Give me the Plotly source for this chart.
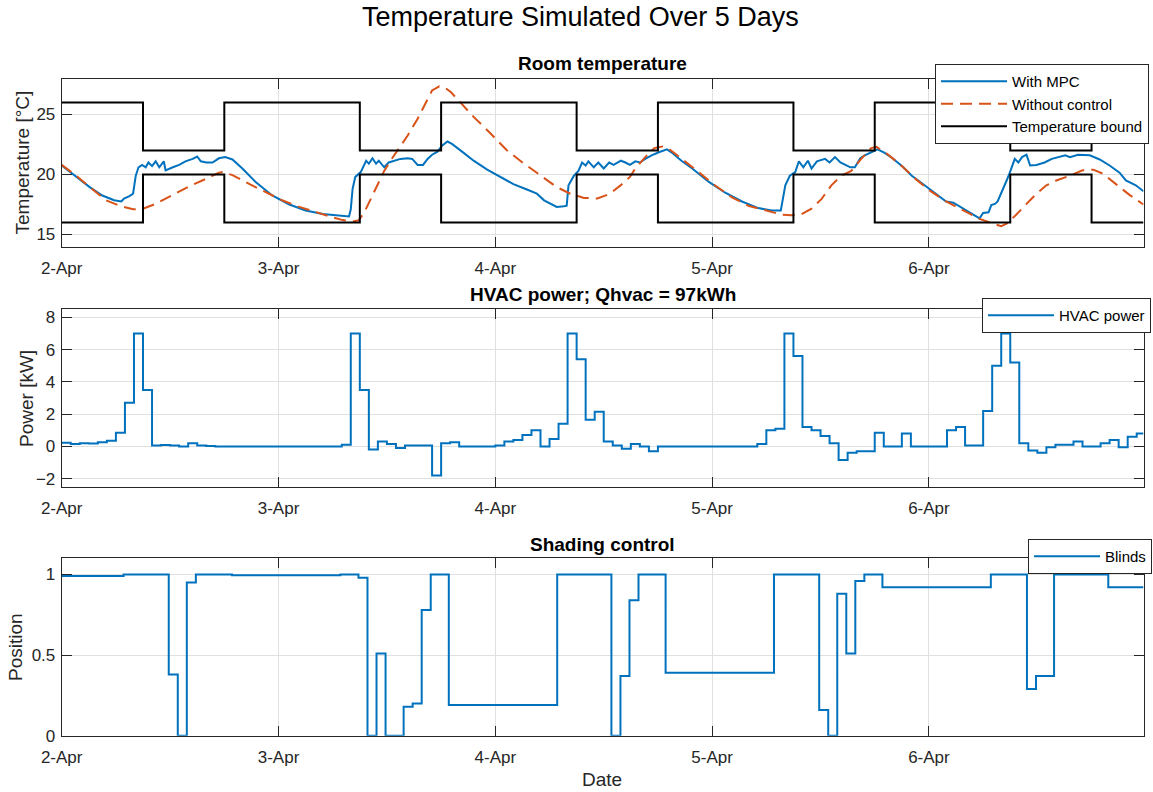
import pandas as pd
import plotly.graph_objects as go

# ---------------- data (hours after 2-Apr 00:00) ----------------
mpc_hours = [0.0, 1.6, 3.1, 4.5, 5.8, 6.6, 6.9, 7.5, 7.9, 8.2, 8.5, 8.9, 9.3, 9.6, 10.0, 10.4, 10.8, 11.3, 11.5,
             12.3, 13.0, 13.7, 14.5, 15.0, 15.4, 16.0, 16.7, 17.4, 18.1, 18.9, 20.0, 21.5, 23.3, 25.2, 27.0, 28.9,
             30.9, 31.8, 32.0, 32.2, 32.5, 33.1, 33.7, 34.0, 34.4, 34.8, 35.1, 35.7, 36.2, 37.0, 37.5, 38.3, 38.8,
             39.4, 40.0, 40.5, 41.0, 41.6, 42.1, 42.7, 43.2, 44.5, 45.6, 47.1, 48.6, 50.0, 51.5, 52.6, 53.4, 54.1,
             54.8, 55.6, 55.9, 56.1, 56.7, 57.2, 57.6, 58.0, 58.3, 58.9, 59.4, 60.0, 60.6, 61.1, 61.9, 62.4, 62.9,
             63.5, 64.0, 64.6, 65.3, 66.1, 67.0, 67.5, 68.6, 69.8, 71.6, 73.4, 75.3, 77.1, 78.6, 79.6, 79.8, 80.1,
             80.6, 81.2, 81.6, 82.1, 82.6, 83.0, 83.6, 84.5, 85.0, 85.6, 86.2, 86.7, 87.3, 87.8, 88.4, 88.9, 89.7,
             90.3, 91.0, 91.9, 93.1, 94.1, 95.0, 96.8, 97.9, 98.7, 100.2, 100.9, 101.6, 102.0, 102.6, 102.9, 103.3,
             103.6, 104.0, 104.6, 104.9, 105.5, 105.9, 106.3, 106.8, 107.2, 107.9, 108.8, 109.6, 110.3, 111.1,
             111.6, 112.5, 113.8, 114.9, 116.0, 117.1, 117.8, 118.9, 119.75]
mpc_temp = [20.75, 19.8, 18.95, 18.25, 17.85, 17.75, 18.0, 18.2, 18.4, 19.9, 20.6, 20.8, 20.6, 21.0, 20.7, 21.1,
            20.6, 21.1, 20.35, 20.6, 20.8, 21.1, 21.3, 21.5, 21.1, 21.0, 21.0, 21.35, 21.45, 21.25, 20.5, 19.35,
            18.25, 17.5, 17.0, 16.7, 16.6, 16.5, 17.1, 18.8, 19.8, 20.2, 21.15, 20.9, 21.35, 20.9, 21.15, 20.6,
            21.0, 21.15, 21.3, 21.35, 21.3, 20.8, 20.8, 21.3, 21.65, 21.9, 22.4, 22.75, 22.55, 21.8, 21.15, 20.4,
            19.8, 19.2, 18.75, 18.4, 17.85, 17.55, 17.3, 17.35, 17.4, 19.1, 19.9, 20.3, 21.0, 20.75, 21.1, 20.6,
            21.0, 20.5, 21.0, 20.8, 21.15, 21.0, 20.8, 21.1, 21.0, 21.3, 21.6, 21.85, 22.1, 21.85, 21.15, 20.5,
            19.4, 18.5, 17.75, 17.2, 17.0, 17.0, 17.95, 19.1, 19.9, 20.2, 21.1, 20.6, 21.15, 20.5, 21.1, 21.3,
            21.0, 21.45, 21.0, 20.8, 20.6, 20.6, 21.35, 21.6, 21.85, 22.1, 21.85, 21.4, 20.65, 19.9, 19.4, 18.4,
            17.75, 17.65, 17.0, 16.7, 16.35, 16.8, 16.85, 17.45, 17.55, 17.75, 18.4, 19.5, 20.05, 21.3, 21.0,
            21.45, 21.65, 20.75, 20.8, 21.0, 21.3, 21.45, 21.6, 21.45, 21.65, 21.6, 21.25, 20.75, 20.15, 19.5,
            19.1, 18.6]

nocontrol_hours = [0.0, 1.6, 3.1, 4.9, 6.4, 7.9, 9.0, 10.4, 12.3, 14.1, 16.0, 17.4, 17.8, 18.9, 20.8, 22.6, 24.4,
                   26.3, 28.1, 29.9, 31.1, 32.4, 32.9, 33.5, 34.2, 34.9, 35.7, 36.4, 37.3, 38.3, 39.4, 40.3, 41.0,
                   41.8, 42.3, 43.1, 44.1, 45.6, 47.5, 49.3, 51.1, 53.0, 54.8, 56.3, 57.8, 59.3, 60.7, 62.2, 62.9,
                   63.5, 64.6, 65.6, 66.6, 67.2, 68.6, 70.5, 72.3, 74.2, 76.0, 77.9, 79.7, 80.8, 81.9, 83.0, 84.1,
                   85.2, 86.3, 87.4, 88.5, 89.6, 90.2, 91.5, 93.0, 94.4, 96.1, 97.9, 99.8, 101.6, 103.1, 104.0,
                   104.6, 105.6, 106.8, 107.9, 109.0, 110.1, 111.6, 113.0, 114.2, 115.3, 116.7, 118.2, 119.75]
nocontrol_temp = [20.8, 19.9, 18.95, 17.85, 17.4, 17.1, 17.15, 17.55, 18.3, 19.0, 19.65, 20.15, 20.2, 19.95, 19.2,
                  18.5, 17.85, 17.3, 16.85, 16.45, 16.2, 16.1, 16.2, 16.85, 17.95, 19.1, 20.3, 21.15, 22.15, 23.25,
                  24.65, 26.05, 27.0, 27.35, 27.3, 26.85, 26.0, 24.8, 23.4, 22.0, 20.95, 19.9, 18.95, 18.4, 18.05,
                  18.0, 18.4, 19.3, 19.8, 20.5, 21.45, 22.2, 22.35, 22.15, 21.35, 20.2, 19.1, 18.1, 17.4, 17.0,
                  16.65, 16.6, 16.7, 17.15, 17.95, 19.1, 19.9, 20.3, 21.3, 22.2, 22.3, 21.65, 20.7, 19.7, 18.65,
                  17.75, 17.0, 16.3, 15.9, 15.7, 15.9, 16.6, 17.55, 18.4, 19.1, 19.5, 19.9, 20.35, 20.4, 20.05,
                  19.2, 18.3, 17.5]

bound_hours = [0, 9, 18, 33, 42, 57, 66, 81, 90, 105, 114, 119.75]
lower_bound = [16, 20, 16, 20, 16, 20, 16, 20, 16, 20, 16, 16]
upper_bound = [26, 22, 26, 22, 26, 22, 26, 22, 26, 22, 26, 26]

power_hours = list(range(120)) + [119.75]
hvac_power = [0.22, 0.15, 0.2, 0.18, 0.25, 0.35, 0.85, 2.7, 7.0, 3.5,
              0.05, 0.08, 0.05, 0.0, 0.2, 0.05, 0.02, 0.0, 0.0, 0.0,
              0.0, 0.0, 0.0, 0.0, 0.0, 0.0, 0.0, 0.0, 0.0, 0.0,
              0.0, 0.1, 7.0, 3.5, -0.2, 0.3, 0.15, -0.1, 0.05, 0.05,
              0.05, -1.8, 0.2, 0.25, 0.0, 0.0, 0.0, 0.0, 0.05, 0.3,
              0.4, 0.7, 1.0, 0.0, 0.45, 1.4, 7.0, 5.4, 1.65, 2.15,
              0.3, 0.05, -0.15, 0.15, 0.0, -0.3, 0.0, 0.0, 0.0, 0.0,
              0.0, 0.0, 0.0, 0.0, 0.0, 0.0, 0.0, 0.15, 1.0, 1.1,
              7.0, 5.6, 1.2, 1.0, 0.65, 0.2, -0.85, -0.4, -0.3, -0.3,
              0.85, 0.0, 0.0, 0.8, 0.0, 0.0, 0.0, 0.0, 1.0, 1.2,
              0.05, 0.05, 2.2, 5.0, 7.0, 5.2, 0.2, -0.25, -0.4, -0.05,
              0.1, 0.1, 0.3, 0.0, 0.0, 0.2, 0.4, -0.05, 0.6, 0.8, 0.8]

blinds_hours = [0, 6.85, 11.85, 12.85, 13.85, 14.85, 18.85, 30.85, 32.85, 33.85, 34.85, 35.85, 37.85, 38.85,
                39.85, 40.85, 42.85, 54.85, 60.85, 61.85, 62.85, 63.85, 66.85, 78.85, 83.85, 84.85, 85.85,
                86.85, 87.85, 88.85, 90.85, 102.85, 106.85, 107.85, 109.85, 115.85, 119.75]
blinds_pos = [0.99, 1.0, 0.38, 0.0, 0.95, 1.0, 0.995, 1.0, 0.98, 0.0, 0.51, 0.0, 0.18, 0.2,
              0.78, 1.0, 0.19, 1.0, 0.0, 0.37, 0.84, 1.0, 0.39, 1.0, 0.16, 0.0, 0.88,
              0.51, 0.96, 1.0, 0.92, 1.0, 0.29, 0.37, 1.0, 0.92, 0.92]

day_ticks = ["2-Apr", "3-Apr", "4-Apr", "5-Apr", "6-Apr"]
temp_ticks = [15, 20, 25]
power_ticks = [-2, 0, 2, 4, 6, 8]
pos_ticks = [0, 0.5, 1]

BASE = pd.Timestamp("2024-04-02 00:00")


def to_time(hours):
    return [BASE + pd.Timedelta(hours=h) for h in hours]


BLUE = "#0072BD"
ORANGE = "#D95319"
AX = "#262626"
GRID = "#e0e0e0"
FONT = "Liberation Sans, Arial, sans-serif"

W, H = 1153, 792


def px(X):
    return X / W


def py(Y):
    return 1 - Y / H


fig = go.Figure()

fig.add_trace(go.Scatter(x=to_time(mpc_hours), y=mpc_temp, mode="lines", name="With MPC",
                         line=dict(color=BLUE, width=2), xaxis="x", yaxis="y", legend="legend"))
fig.add_trace(go.Scatter(x=to_time(nocontrol_hours), y=nocontrol_temp, mode="lines", name="Without control",
                         line=dict(color=ORANGE, width=2, dash="12px,7px"), xaxis="x", yaxis="y",
                         legend="legend"))
bx = to_time(bound_hours) + [None] + to_time(bound_hours)
by = lower_bound + [None] + upper_bound
fig.add_trace(go.Scatter(x=bx, y=by, mode="lines", name="Temperature bound", line_shape="hv",
                         line=dict(color="black", width=2), xaxis="x", yaxis="y", legend="legend"))

fig.add_trace(go.Scatter(x=to_time(power_hours), y=hvac_power, mode="lines", name="HVAC power", line_shape="hv",
                         line=dict(color=BLUE, width=2), xaxis="x2", yaxis="y2", legend="legend2"))

fig.add_trace(go.Scatter(x=to_time(blinds_hours), y=blinds_pos, mode="lines", name="Blinds", line_shape="hv",
                         line=dict(color=BLUE, width=2), xaxis="x3", yaxis="y3", legend="legend3"))

x_dom = [px(61.7), px(1143.5)]
x_range = [BASE, BASE + pd.Timedelta(hours=119.75)]
tickvals = [BASE + pd.Timedelta(days=i) for i in range(len(day_ticks))]


def xaxis(anchor):
    return dict(domain=x_dom, anchor=anchor, type="date", range=x_range, tickvals=tickvals,
                ticktext=day_ticks, showgrid=True, gridcolor=GRID, gridwidth=1, ticks="inside", ticklen=10,
                tickcolor=AX, tickwidth=1, showline=True, linecolor=AX, linewidth=1, mirror="ticks",
                zeroline=False, automargin=False, tickfont=dict(family=FONT, size=17, color=AX),
                ticklabelstandoff=6)


def yaxis(anchor, top_px, bot_px, rng, ticks):
    return dict(domain=[py(bot_px), py(top_px)], anchor=anchor, range=rng, tickvals=ticks, showgrid=True,
                gridcolor=GRID, gridwidth=1, ticks="inside", ticklen=10, tickcolor=AX, tickwidth=1,
                showline=True, linecolor=AX, linewidth=1, mirror="ticks", zeroline=False, automargin=False,
                tickfont=dict(family=FONT, size=17, color=AX), ticklabelstandoff=2)


legend_common = dict(bordercolor=AX, borderwidth=1, bgcolor="white", xanchor="right", yanchor="top",
                     font=dict(family=FONT, size=15, color="#000000"), itemwidth=66, tracegroupgap=0)

fig.update_layout(
    width=W, height=H, margin=dict(l=0, r=0, t=0, b=0, autoexpand=False), paper_bgcolor="white",
    plot_bgcolor="white", font=dict(family=FONT, color=AX),
    xaxis=xaxis("y"), xaxis2=xaxis("y2"), xaxis3=xaxis("y3"),
    yaxis=yaxis("x", 78.5, 246.5, [14, 28], temp_ticks),
    yaxis2=yaxis("x2", 309.3, 486.7, [-2.5, 8.5], power_ticks),
    yaxis3=yaxis("x3", 558.3, 735.7, [0, 1.1], pos_ticks),
    legend=dict(legend_common, x=px(1149), y=py(64)),
    legend2=dict(legend_common, x=px(1151), y=py(298)),
    legend3=dict(legend_common, x=px(1152), y=py(539)),
    showlegend=True,
)

xc = (x_dom[0] + x_dom[1]) / 2
ann = [
    dict(text="Temperature Simulated Over 5 Days", x=px(580), y=py(17), font=dict(size=27, color="#000000")),
    dict(text="<b>Room temperature</b>", x=xc, y=py(63.5), font=dict(size=19, color="#000000")),
    dict(text="<b>HVAC power; Qhvac = 97kWh</b>", x=xc, y=py(294), font=dict(size=19, color="#000000")),
    dict(text="<b>Shading control</b>", x=xc, y=py(544), font=dict(size=19, color="#000000")),
    dict(text="Temperature [°C]", x=px(22), y=py(162.5), textangle=-90, font=dict(size=19, color=AX)),
    dict(text="Power [kW]", x=px(27), y=py(398), textangle=-90, font=dict(size=19, color=AX)),
    dict(text="Position", x=px(15), y=py(647), textangle=-90, font=dict(size=19, color=AX)),
    dict(text="Date", x=px(602), y=py(779), font=dict(size=19, color=AX)),
]
for a in ann:
    a.update(xref="paper", yref="paper", showarrow=False, xanchor="center", yanchor="middle")
    a["font"]["family"] = FONT
fig.update_layout(annotations=ann)

# remove the browser's default 8 px page margin so the figure fills the window exactly
fig.write_html("out.html", config={"displayModeBar": False},
               post_script="document.body.style.margin='0px';")
